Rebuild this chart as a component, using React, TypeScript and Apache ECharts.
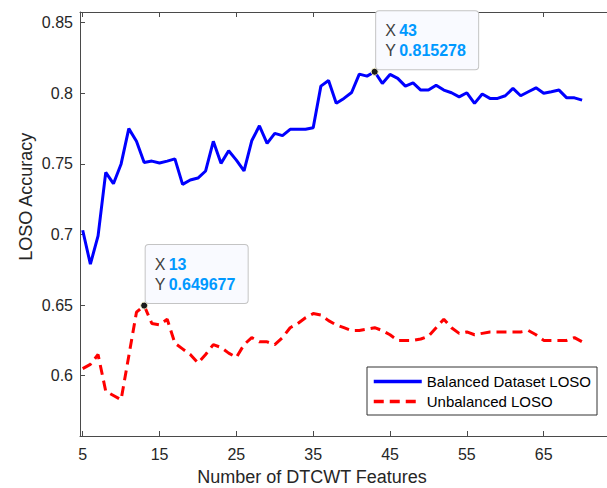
import React, { useEffect, useRef } from "react";
import * as echarts from "echarts";

const features = [5, 6, 7, 8, 9, 10, 11, 12, 13, 14, 15, 16, 17, 18, 19, 20, 21, 22, 23, 24, 25, 26, 27, 28, 29, 30, 31, 32, 33, 34, 35, 36, 37, 38, 39, 40, 41, 42, 43, 44, 45, 46, 47, 48, 49, 50, 51, 52, 53, 54, 55, 56, 57, 58, 59, 60, 61, 62, 63, 64, 65, 66, 67, 68, 69, 70];

const balanced = [0.703, 0.679, 0.699, 0.744, 0.736, 0.75, 0.775, 0.766, 0.751, 0.752, 0.7506, 0.752, 0.7536, 0.7355, 0.7386, 0.74, 0.745, 0.766, 0.7504, 0.7593, 0.7527, 0.745, 0.7664, 0.777, 0.7646, 0.7716, 0.770, 0.7745, 0.7745, 0.7745, 0.7756, 0.8051, 0.8091, 0.7929, 0.7964, 0.8006, 0.8136, 0.8122, 0.815278, 0.807, 0.8134, 0.8106, 0.8051, 0.8074, 0.8023, 0.8023, 0.8058, 0.8023, 0.8004, 0.7975, 0.8004, 0.7929, 0.7995, 0.7964, 0.7964, 0.7983, 0.8035, 0.7983, 0.8011, 0.8039, 0.80, 0.8011, 0.8023, 0.7968, 0.7968, 0.7952];

const unbalanced = [0.605, 0.608, 0.615, 0.589, 0.586, 0.583, 0.614, 0.645, 0.649677, 0.637, 0.636, 0.64, 0.623, 0.619, 0.615, 0.609, 0.615, 0.622, 0.62, 0.616, 0.613, 0.622, 0.627, 0.624, 0.624, 0.622, 0.627, 0.634, 0.637, 0.641, 0.644, 0.643, 0.639, 0.636, 0.634, 0.632, 0.632, 0.633, 0.634, 0.632, 0.629, 0.625, 0.625, 0.625, 0.626, 0.628, 0.634, 0.64, 0.634, 0.63, 0.631, 0.629, 0.63, 0.631, 0.631, 0.631, 0.631, 0.631, 0.632, 0.629, 0.625, 0.625, 0.625, 0.625, 0.627, 0.624];

const xTicks = [5, 15, 25, 35, 45, 55, 65];
const yTicks = [0.6, 0.65, 0.7, 0.75, 0.8, 0.85];
const yTickLabels = ["0.6", "0.65", "0.7", "0.75", "0.8", "0.85"];

const seriesNames = ["Balanced Dataset LOSO", "Unbalanced LOSO"];
const tipBalancedX = 43;
const tipUnbalancedX = 13;

const FONT = "'Liberation Sans', Arial, Helvetica, sans-serif";

function tipLabel(x: number, y: number) {
  return {
    show: true,
    position: [5.5, 1.5],
    align: "left",
    verticalAlign: "bottom",
    formatter: `{l|X} {v|${x}}\n{l|Y} {v|${y}}`,
    backgroundColor: "#f9faff",
    borderColor: "#c4c4c4",
    borderWidth: 1,
    borderRadius: 3,
    padding: [9, 9, 9, 9],
    width: 84,
    lineHeight: 20,
    rich: {
      l: { fontSize: 16, color: "#404040", fontFamily: FONT, lineHeight: 20 },
      v: { fontSize: 16, color: "#0099ff", fontWeight: "bold", fontFamily: FONT, lineHeight: 20 },
    },
  };
}

export default function App() {
  const ref = useRef<HTMLDivElement>(null);
  useEffect(() => {
    document.body.style.margin = "0";
    const chart = echarts.init(ref.current!, null, { renderer: "svg" });
    const bIdx = features.indexOf(tipBalancedX);
    const uIdx = features.indexOf(tipUnbalancedX);
    const axisColor = "#4a4a4a";
    const xMin = 4.649;
    const xMax = 73.24;
    const yMin = 0.5573;
    const yMax = 0.8576;
    chart.setOption({
      animation: false,
      grid: { left: 80, right: 0, top: 12, bottom: 52, containLabel: false },
      xAxis: [
        {
          type: "value",
          min: xMin,
          max: xMax,
          position: "bottom",
          axisLine: { show: true, lineStyle: { color: axisColor, width: 1 } },
          axisTick: { show: true, inside: true, length: 5, customValues: xTicks, lineStyle: { color: axisColor } },
          axisLabel: { show: true, customValues: xTicks, margin: 10, fontSize: 16, color: "#262626", fontFamily: FONT },
          splitLine: { show: false },
        },
        {
          type: "value",
          min: xMin,
          max: xMax,
          position: "top",
          axisLine: { show: true, lineStyle: { color: axisColor, width: 1 } },
          axisTick: { show: true, inside: true, length: 5, customValues: xTicks, lineStyle: { color: axisColor } },
          axisLabel: { show: false },
          splitLine: { show: false },
        },
      ],
      yAxis: {
        type: "value",
        min: yMin,
        max: yMax,
        axisLine: { show: true, lineStyle: { color: axisColor, width: 1 } },
        axisTick: { show: true, inside: true, length: 5, customValues: yTicks, lineStyle: { color: axisColor } },
        axisLabel: {
          show: true,
          customValues: yTicks,
          margin: 7,
          fontSize: 16,
          color: "#262626",
          fontFamily: FONT,
          formatter: (v: number) => {
            let best = 0;
            yTicks.forEach((t, i) => {
              if (Math.abs(t - v) < Math.abs(yTicks[best] - v)) best = i;
            });
            return yTickLabels[best];
          },
        },
        splitLine: { show: false },
      },
      legend: {
        orient: "vertical",
        left: 367,
        top: 367,
        itemWidth: 48,
        itemHeight: 14,
        itemGap: 5,
        padding: [7, 6, 6, 5],
        backgroundColor: "#ffffff",
        borderColor: "#333333",
        borderWidth: 1,
        itemStyle: { opacity: 0, borderWidth: 0 },
        lineStyle: { width: 3.5 },
        textStyle: { fontSize: 15, color: "#000000", fontFamily: FONT },
        data: seriesNames,
      },
      series: [
        {
          name: seriesNames[0],
          type: "line",
          xAxisIndex: 0,
          symbol: "none",
          data: features.map((x, i) => [x, balanced[i]]),
          lineStyle: { color: "#0000ff", width: 3 },
          itemStyle: { color: "#0000ff" },
          z: 3,
          markPoint: {
            symbol: "circle",
            symbolSize: 7,
            itemStyle: { color: "#1a1a1a", borderColor: "#f2edc4", borderWidth: 1, opacity: 1 },
            data: [{ coord: [features[bIdx], balanced[bIdx]] }],
            label: tipLabel(features[bIdx], balanced[bIdx]),
          },
        },
        {
          name: seriesNames[1],
          type: "line",
          xAxisIndex: 0,
          symbol: "none",
          data: features.map((x, i) => [x, unbalanced[i]]),
          lineStyle: { color: "#ff0000", width: 3, type: [10, 6] },
          itemStyle: { color: "#ff0000" },
          z: 2,
          markPoint: {
            symbol: "circle",
            symbolSize: 7,
            itemStyle: { color: "#1a1a1a", borderColor: "#f2edc4", borderWidth: 1, opacity: 1 },
            data: [{ coord: [features[uIdx], unbalanced[uIdx]] }],
            label: tipLabel(features[uIdx], unbalanced[uIdx]),
          },
        },
      ],
      graphic: [
        {
          type: "text",
          x: 312,
          y: 477,
          style: { text: "Number of DTCWT Features", fontSize: 18, fill: "#262626", fontFamily: FONT, align: "center", verticalAlign: "middle" },
        },
        {
          type: "text",
          x: 25.5,
          y: 196.7,
          rotation: Math.PI / 2,
          style: { text: "LOSO Accuracy", fontSize: 18, fill: "#262626", fontFamily: FONT, align: "center", verticalAlign: "middle" },
        },
      ],
    });
    return () => chart.dispose();
  }, []);
  return <div ref={ref} style={{ width: 607, height: 488 }} />;
}
